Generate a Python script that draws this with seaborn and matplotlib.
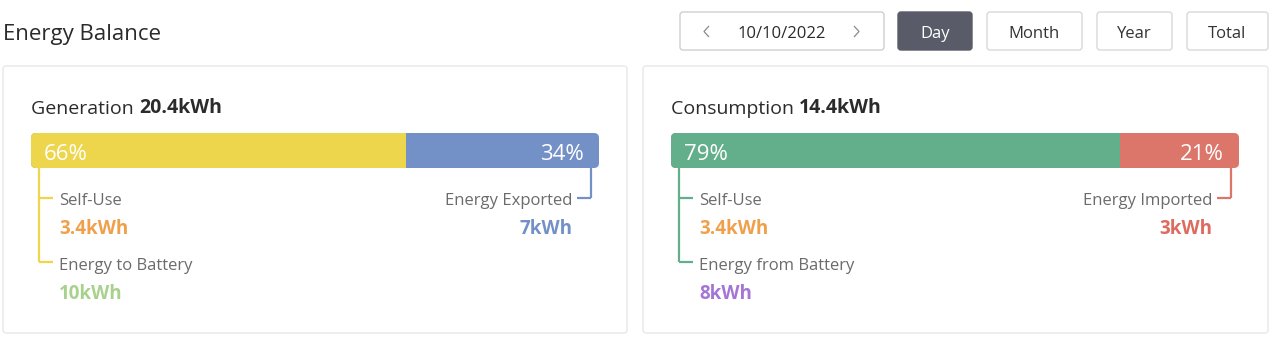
import matplotlib
matplotlib.use("Agg")
import matplotlib.pyplot as plt
import seaborn as sns
from matplotlib.transforms import Affine2D
from matplotlib.patches import FancyBboxPatch
from matplotlib.lines import Line2D
from matplotlib.text import Annotation

# ---------------- data ----------------
panel_titles = ["Generation", "Consumption"]
panel_totals = ["20.4kWh", "14.4kWh"]
main_share = [66, 79]
other_share = [34, 21]
left_labels = [["Self-Use", "Energy to Battery"], ["Self-Use", "Energy from Battery"]]
left_values = [["3.4kWh", "10kWh"], ["3.4kWh", "8kWh"]]
right_labels = ["Energy Exported", "Energy Imported"]
right_values = ["7kWh", "3kWh"]
date_label = "10/10/2022"
period_buttons = ["Day", "Month", "Year", "Total"]
active_button = "Day"

# ---------------- style ----------------
sns.set_theme(style="white")
plt.rcParams["font.family"] = ["Open Sans", "DejaVu Sans"]

main_colors = ["#EDD64B", "#63AF8C"]
other_colors = ["#7391C7", "#DD766A"]
left_value_colors = [["#F0A04B", "#A9D18E"], ["#F0A04B", "#A575D6"]]
right_value_colors = ["#7391C7", "#DD6B5F"]
DARK = "#2b2b2b"
GREY = "#6b6b6b"

W, H = 1280, 337
fig = plt.figure(figsize=(W / 100, H / 100), dpi=100)
fig.patch.set_facecolor("white")
# pixel transform, origin top-left
P = Affine2D().scale(1 / 100, -1 / 100).translate(0, H / 100) + fig.dpi_scale_trans

BAR_TOP, BAR_BOT = 133, 168


def rbox(x0, y0, x1, y1, r=2, **kw):
    return FancyBboxPatch((x0, y0), x1 - x0, y1 - y0,
                          boxstyle=f"round,pad=0,rounding_size={r}",
                          transform=P, **kw)


def box(x0, y0, x1, y1, fc="white", ec="#e6e6e6", lw=1.0, r=2, z=-5):
    p = rbox(x0, y0, x1, y1, r=r, fc=fc, ec=ec, lw=lw, zorder=z)
    fig.add_artist(p)
    return p


def line(xs, ys, color, lw=1.6):
    fig.add_artist(Line2D(xs, ys, transform=P, color=color, lw=lw, zorder=3,
                          solid_joinstyle="miter", solid_capstyle="butt"))


def text(x, y, s, **kw):
    kw.setdefault("va", "baseline")
    kw.setdefault("zorder", 5)
    return fig.text(x, y, s, transform=P, **kw)


# ---------------- header ----------------
text(3, 40, "Energy Balance", fontsize=16, color=DARK)

box(680, 12, 884, 50, ec="#cfcfcf", r=3)
text(782, 38, date_label, fontsize=12, color=DARK, ha="center")
line([709, 704, 709], [26, 31.5, 37], "#8a8a8a", lw=0.9)
line([854, 859, 854], [26, 31.5, 37], "#8a8a8a", lw=0.9)

btn_x = [(898, 972), (987, 1082), (1097, 1172), (1187, 1268)]
for (x0, x1), lab in zip(btn_x, period_buttons):
    active = lab == active_button
    box(x0, 12, x1, 50, fc="#595b68" if active else "white",
        ec="#595b68" if active else "#d9d9d9", r=3)
    text((x0 + x1) / 2, 38, lab, fontsize=12,
         color="white" if active else "#333333", ha="center")

# ---------------- panels ----------------
panel_x = [(3, 627), (643, 1268)]
for i, (px0, px1) in enumerate(panel_x):
    box(px0, 66, px1, 333, ec="#e8e8e8", r=3)
    bx0 = px0 + 28
    bx1 = px1 - 28 - (1 if i == 1 else 0)
    bw = bx1 - bx0

    # title + bold total
    t1 = text(bx0, 114, panel_titles[i] + " ", fontsize=14, color=DARK)
    ann = Annotation(panel_totals[i], xy=(1, 0), xycoords=t1, va="bottom",
                     ha="left", fontsize=14, fontweight="bold", color=DARK,
                     zorder=5)
    fig.add_artist(ann)

    # stacked bar drawn with seaborn
    ax = fig.add_axes([bx0 / W, 1 - BAR_BOT / H, bw / W, (BAR_BOT - BAR_TOP) / H])
    ax.set_zorder(1)
    total = main_share[i] + other_share[i]
    sns.barplot(x=[total], y=["bar"], orient="h", color=other_colors[i],
                width=1.0, ax=ax, saturation=1)
    sns.barplot(x=[main_share[i]], y=["bar"], orient="h", color=main_colors[i],
                width=1.0, ax=ax, saturation=1)
    ax.set_xlim(0, total)
    ax.set_ylim(0.5, -0.5)
    ax.set_axis_off()
    clip = rbox(bx0, BAR_TOP, bx1, BAR_BOT, r=5)
    for patch in ax.patches:
        patch.set_edgecolor("none")
        patch.set_clip_path(clip)
    text(bx0 + 13, 160, f"{main_share[i]}%", fontsize=16, color="white")
    text(bx1 - 15, 160, f"{other_share[i]}%", fontsize=16, color="white", ha="right")

    # left connectors
    lx = bx0 + 8
    line([lx, lx], [BAR_BOT, 262], main_colors[i])
    line([lx, lx + 14], [198, 198], main_colors[i])
    line([lx, lx + 14], [262, 262], main_colors[i])
    text(bx0 + 28, 205, left_labels[i][0], fontsize=12, color=GREY)
    text(bx0 + 28, 234, left_values[i][0], fontsize=13.5, fontweight="bold",
         color=left_value_colors[i][0])
    text(bx0 + 28, 270, left_labels[i][1], fontsize=12, color=GREY)
    text(bx0 + 28, 299, left_values[i][1], fontsize=13.5, fontweight="bold",
         color=left_value_colors[i][1])

    # right connector
    rx = bx1 - 8
    line([rx, rx], [BAR_BOT, 198], other_colors[i])
    line([rx, rx - 14], [198, 198], other_colors[i])
    text(bx1 - 27, 205, right_labels[i], fontsize=12, color=GREY, ha="right")
    text(bx1 - 27, 234, right_values[i], fontsize=13.5, fontweight="bold",
         color=right_value_colors[i], ha="right")

fig.savefig("out.png", dpi=100, facecolor="white")
